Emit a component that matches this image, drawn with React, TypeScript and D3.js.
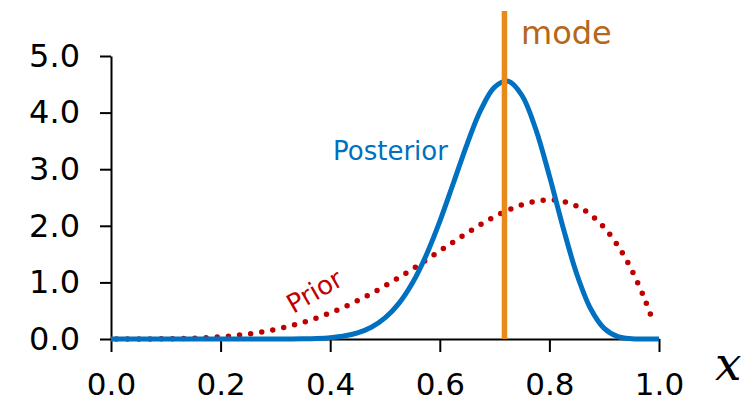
import { useEffect, useRef } from 'react';
import * as d3 from 'd3';

// values
const postX = [0, 0.025, 0.05, 0.075, 0.1, 0.125, 0.15, 0.175, 0.2, 0.225, 0.25, 0.275, 0.3, 0.325, 0.35, 0.375, 0.4, 0.425, 0.45, 0.475, 0.5, 0.525, 0.55, 0.575, 0.6, 0.625, 0.65, 0.675, 0.7, 0.725, 0.75, 0.775, 0.8, 0.825, 0.85, 0.875, 0.9, 0.925, 0.95, 0.975, 1];
const posterior = [0, 0, 0, 0, 0, 0, 0, 0, 0, 0, 0, 0, 0, 0.001, 0.004, 0.01, 0.024, 0.053, 0.109, 0.208, 0.372, 0.626, 0.99, 1.477, 2.079, 2.76, 3.449, 4.051, 4.45, 4.554, 4.302, 3.71, 2.881, 1.969, 1.146, 0.539, 0.188, 0.041, 0.004, 0, 0];

const priorX = [0.01, 0.025, 0.05, 0.075, 0.1, 0.125, 0.15, 0.175, 0.2, 0.225, 0.25, 0.275, 0.3, 0.325, 0.35, 0.375, 0.4, 0.425, 0.45, 0.475, 0.5, 0.525, 0.55, 0.575, 0.6, 0.625, 0.65, 0.675, 0.7, 0.725, 0.75, 0.775, 0.8, 0.825, 0.85, 0.875, 0.9, 0.925, 0.95, 0.975, 0.99];
const prior = [0, 0, 0, 0.001, 0.003, 0.006, 0.013, 0.023, 0.038, 0.06, 0.088, 0.124, 0.17, 0.226, 0.293, 0.371, 0.461, 0.563, 0.677, 0.802, 0.938, 1.083, 1.235, 1.394, 1.555, 1.717, 1.874, 2.024, 2.161, 2.279, 2.373, 2.435, 2.458, 2.432, 2.349, 2.198, 1.968, 1.647, 1.222, 0.678, 0.288];

const modeX = 0.718;
const xTicks = [0, 0.2, 0.4, 0.6, 0.8, 1.0];
const yTicks = [0, 1, 2, 3, 4, 5];

const width = 755, height = 401;
const font = "'DejaVu Sans', sans-serif";

export default function App() {
  const xAxisRef = useRef<SVGGElement>(null);
  const yAxisRef = useRef<SVGGElement>(null);

  const x = d3.scaleLinear().domain([0, 1]).range([111, 659]);
  const y = d3.scaleLinear().domain([0, 5]).range([339, 56]);

  const line = d3.line<[number, number]>()
    .x(d => x(d[0]))
    .y(d => y(d[1]))
    .curve(d3.curveCatmullRom.alpha(0.5));

  const postPath = line(postX.map((v, i) => [v, posterior[i]] as [number, number])) || '';
  const priorPath = line(priorX.map((v, i) => [v, prior[i]] as [number, number])) || '';

  useEffect(() => {
    const gx = d3.select(xAxisRef.current!);
    gx.selectAll('*').remove();
    gx.call(d3.axisBottom(x).tickValues(xTicks).tickFormat(d3.format('.1f')).tickSize(13).tickSizeOuter(0).tickPadding(21));
    const gy = d3.select(yAxisRef.current!);
    gy.selectAll('*').remove();
    gy.call(d3.axisLeft(y).tickValues(yTicks).tickFormat(d3.format('.1f')).tickSize(11).tickSizeOuter(0).tickPadding(20));
    [gx, gy].forEach(g => {
      g.selectAll('path, line').attr('stroke', '#000').attr('stroke-width', 2);
      g.selectAll('text').attr('fill', '#000').style('font-family', font).style('font-size', '31px');
    });
    gy.selectAll('text').style('font-size', '32px');
  }, []);

  return (
    <svg width={width} height={height} style={{ position: 'absolute', left: 0, top: 0, background: '#fff' }}>
      <g ref={xAxisRef} transform={`translate(0,${y(0)})`} />
      <g ref={yAxisRef} transform={`translate(${x(0)},0)`} />
      <path d={priorPath} fill="none" stroke="#c00000" strokeWidth={5.5} strokeLinecap="round" strokeDasharray="0 11.2" />
      <path d={postPath} fill="none" stroke="#0070c0" strokeWidth={5} strokeLinejoin="round" />
      <line x1={x(modeX)} x2={x(modeX)} y1={11} y2={y(0)} stroke="#e8891a" strokeWidth={5.5} />
      <text x={521} y={44} fill="#b5671a" style={{ fontFamily: font, fontSize: '32px' }}>mode</text>
      <text x={333} y={160} fill="#0070c0" style={{ fontFamily: font, fontSize: '26px' }}>Posterior</text>
      <text transform="translate(319,299) rotate(-30)" textAnchor="middle" fill="#c00000" style={{ fontFamily: font, fontSize: '26px' }}>Prior</text>
      <text x={715} y={380} fill="#000" style={{ fontFamily: "'DejaVu Serif', serif", fontSize: '47px', fontStyle: 'italic' }}>x</text>
    </svg>
  );
}
